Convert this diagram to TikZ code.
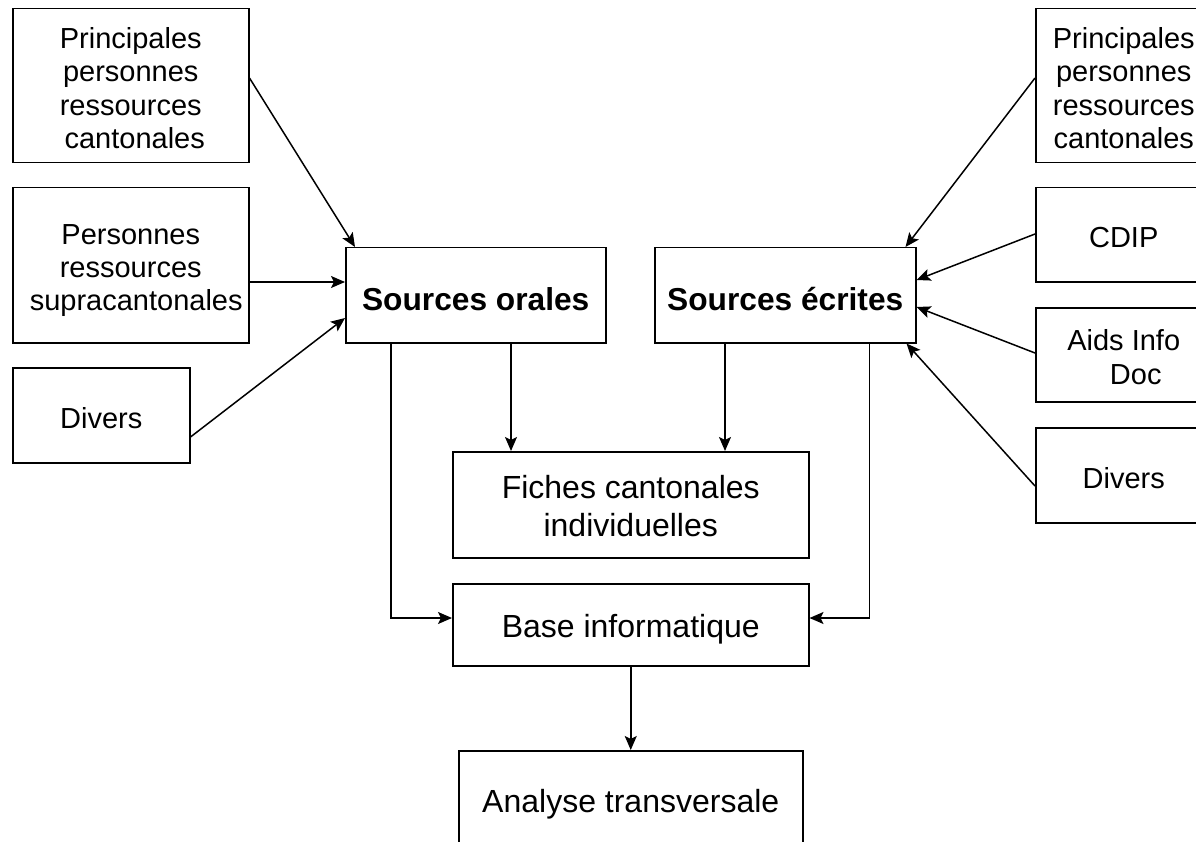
\documentclass[tikz,border=0pt]{standalone}
\usepackage{fontspec}
\setmainfont{Liberation Sans}
\usetikzlibrary{arrows.meta,calc}
\newcommand{\mlines}[1]{\begin{tabular}[t]{@{}c@{}}#1\end{tabular}}
\tikzset{
  box/.style={draw=black, line width=1.5pt, inner sep=0pt, anchor=north west, align=center},
  side/.style={box, font=\fontsize{29}{33.3}\selectfont},
  mid/.style={box, font=\fontsize{32}{38}\selectfont},
  boldbox/.style={box, font=\fontsize{31.7}{36}\selectfont\bfseries},
  arr/.style={draw=black, line width=1.5pt, -{Stealth[length=14pt,width=12pt,inset=3pt]}}
}
\begin{document}
\begin{tikzpicture}[x=1pt,y=-1pt]
\useasboundingbox (0,0) rectangle (1196,842);
\clip (0,0) rectangle (1196,842);

% left column
\node[side, minimum width=236pt, text height=39.7pt, text depth=114.3pt] (l1) at (12,8)
  {\mlines{Principales\\personnes\\ressources\\\hspace*{8pt}cantonales}};
\node[side, minimum width=236pt, text height=56.3pt, text depth=98.7pt] (l2) at (12,187)
  {\mlines{Personnes\\ressources\\\hspace*{11pt}supracantonales}};
\node[side, minimum width=177pt, text height=60.3pt, text depth=34.7pt] (l3) at (12,367)
  {Divers};

% sources
\node[boldbox, minimum width=260pt, text height=63pt, text depth=32pt] (so) at (345,247)
  {Sources orales};
\node[boldbox, minimum width=261pt, text height=63pt, text depth=32pt] (se) at (654,247)
  {Sources écrites};

% right column
\node[side, minimum width=176pt, text height=39.7pt, text depth=114.3pt] (r1) at (1035,8)
  {\mlines{Principales\\personnes\\ressources\\cantonales}};
\node[side, minimum width=176pt, text height=60pt, text depth=34pt] (r2) at (1035,187)
  {CDIP};
\node[side, minimum width=176pt, text height=43pt, text depth=51pt] (r3) at (1035,307)
  {\mlines{Aids Info\\\hspace*{24pt}Doc}};
\node[side, minimum width=176pt, text height=61pt, text depth=34pt] (r4) at (1035,427)
  {Divers};

% middle
\node[mid, minimum width=356pt, text height=47pt, text depth=59pt] (fiches) at (452,451)
  {\mlines{Fiches cantonales\\individuelles}};
\node[mid, minimum width=356pt, text height=54pt, text depth=28pt] (base) at (452,583)
  {Base informatique};
\node[mid, minimum width=344pt, text height=62pt, text depth=100pt] (an) at (458,750)
  {Analyse transversale};

% connectors into Sources orales
\draw[arr] ($(l1.north east)+(0,70)$) -- ($(so.north west)+(10,0)$);
\draw[arr] ($(l2.north east)+(0,95)$) -- ($(so.north west)+(0,35)$);
\draw[arr] ($(l3.north east)+(0,70)$) -- ($(so.north west)+(0,71)$);

% connectors into Sources ecrites
\draw[arr] ($(r1.north west)+(0,70)$) -- ($(se.north east)+(-11,0)$);
\draw[arr] ($(r2.north west)+(0,47)$) -- ($(se.north east)+(0,33)$);
\draw[arr] ($(r3.north west)+(0,46)$) -- ($(se.north east)+(0,60)$);
\draw[arr] ($(r4.north west)+(0,59)$) -- ($(se.south east)+(-10,0)$);

% to fiches
\coordinate (p1) at ($(so.south west)+(166,0)$);
\draw[arr] (p1) -- (p1 |- fiches.north);
\coordinate (p2) at ($(se.south west)+(71,0)$);
\draw[arr] (p2) -- (p2 |- fiches.north);

% to base
\draw[arr] ($(so.south west)+(46,0)$) |- ($(base.north west)+(0,35)$);
\draw[arr] ($(se.south east)+(-47,0)$) |- ($(base.north east)+(0,35)$);

% to analyse
\draw[arr] (base.south) -- (an.north);
\end{tikzpicture}
\end{document}
